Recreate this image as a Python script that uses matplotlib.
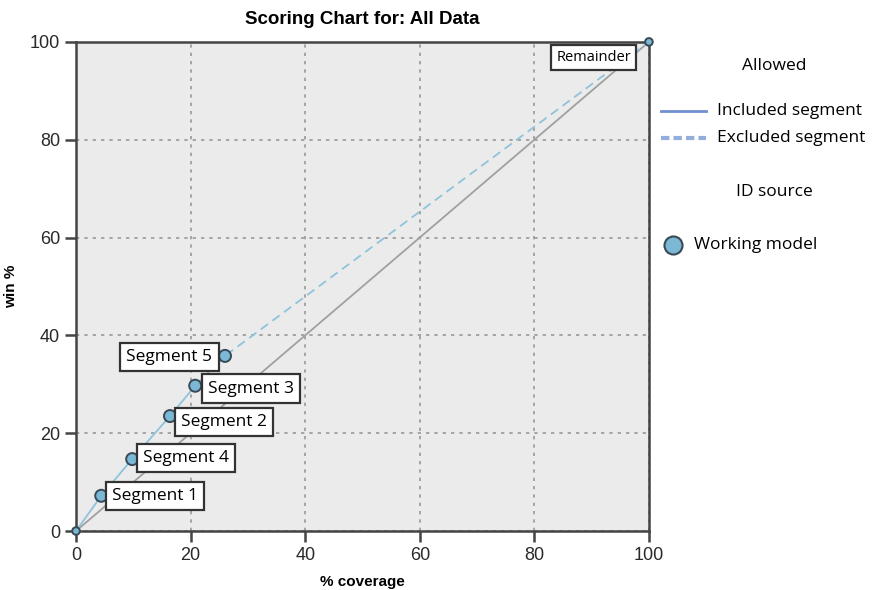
import matplotlib
matplotlib.use("Agg")
import matplotlib.pyplot as plt
from matplotlib.lines import Line2D

# scoring chart data
segments = ["Segment 1", "Segment 4", "Segment 2", "Segment 3", "Segment 5", "Remainder"]
coverage = [4.4, 9.8, 16.4, 20.8, 26.0, 100.0]
win = [7.2, 14.7, 23.5, 29.7, 35.8, 100.0]
included = [True, True, True, True, False, False]

xticks = [0, 20, 40, 60, 80, 100]
yticks = [0, 20, 40, 60, 80, 100]

fig = plt.figure(figsize=(8.72, 5.90), dpi=100)
ax = fig.add_axes([0.0872, 0.1, 0.657, 0.829])
ax.set_facecolor("#ebebeb")

line_col = "#8fc3dc"
ax.plot([0, 100], [0, 100], color="#a0a0a0", lw=1.3, zorder=2)

# included path from origin, then excluded (dashed) continuation
inc_x = [0] + [c for c, i in zip(coverage, included) if i]
inc_y = [0] + [w for w, i in zip(win, included) if i]
ax.plot(inc_x, inc_y, color=line_col, lw=1.3, zorder=3)
exc_x = [inc_x[-1]] + [c for c, i in zip(coverage, included) if not i]
exc_y = [inc_y[-1]] + [w for w, i in zip(win, included) if not i]
ax.plot(exc_x, exc_y, color=line_col, lw=1.3, ls=(0, (5, 3)), zorder=3)

ax.scatter([0] + coverage, [0] + win, s=[30] + [75] * 5 + [30],
           color="#7ab8d6", edgecolor="#3a4a55", linewidth=1.4, zorder=5,
           clip_on=False)

box = dict(boxstyle="square,pad=0.35", fc="white", ec="#333333", lw=1.6)
offsets = {
    "Segment 1": (8, 0, "left"),
    "Segment 4": (8, 1, "left"),
    "Segment 2": (8, -4, "left"),
    "Segment 3": (9, -2, "left"),
    "Segment 5": (-9, -1, "right"),
}
for name, x, y in zip(segments, coverage, win):
    if name == "Remainder":
        ax.annotate(name, (x, y), xytext=(-13, -11), textcoords="offset points",
                    ha="right", va="center", fontsize=10.5, family="Open Sans",
                    bbox=dict(boxstyle="square,pad=0.35", fc="white",
                              ec="#333333", lw=1.6), zorder=6)
    else:
        dx, dy, ha = offsets[name]
        ax.annotate(name, (x, y), xytext=(dx, dy), textcoords="offset points",
                    ha=ha, va="center", fontsize=12.5, family="Open Sans",
                    bbox=box, zorder=6)

ax.set_xlim(0, 100)
ax.set_ylim(0, 100)
ax.set_xticks(xticks)
ax.set_yticks(yticks)
ax.grid(True, color="#999999", ls=(0, (2, 3)), lw=1.2)
ax.set_axisbelow(True)
for s in ax.spines.values():
    s.set_color("#444444")
    s.set_linewidth(1.8)
ax.tick_params(length=8, width=1.8, color="#444444", labelsize=13,
               labelcolor="#2a2a2a")
for lbl in ax.get_xticklabels() + ax.get_yticklabels():
    lbl.set_family("Liberation Sans")

ax.set_title("Scoring Chart for: All Data", fontsize=13.5, fontweight="bold",
             family="Liberation Sans", pad=13)
ax.set_xlabel("% coverage", fontsize=11, fontweight="bold", family="Liberation Sans",
              labelpad=8)
ax.set_ylabel("win %", fontsize=11, fontweight="bold", family="Liberation Sans")
ax.yaxis.set_label_coords(-0.102, 0.5)

# legend on the right
lf = dict(fontsize=12.5, family="Open Sans", transform=fig.transFigure)
fig.text(0.888, 0.888, "Allowed", ha="center", va="center", **lf)
fig.add_artist(Line2D([0.758, 0.810], [0.812, 0.812], color="#6f8fcf", lw=2,
                      transform=fig.transFigure))
fig.text(0.822, 0.812, "Included segment", ha="left", va="center", **lf)
fig.add_artist(Line2D([0.758, 0.810], [0.766, 0.766], color="#93aedc", lw=3,
                      ls=(0, (2, 1)), transform=fig.transFigure))
fig.text(0.822, 0.766, "Excluded segment", ha="left", va="center", **lf)
fig.text(0.888, 0.675, "ID source", ha="center", va="center", **lf)
fig.add_artist(Line2D([0.772], [0.585], marker="o", ms=13, mfc="#7ab8d6",
                      mec="#3a4a55", mew=1.5, transform=fig.transFigure))
fig.text(0.796, 0.585, "Working model", ha="left", va="center", **lf)

fig.savefig("out.png", dpi=100)
